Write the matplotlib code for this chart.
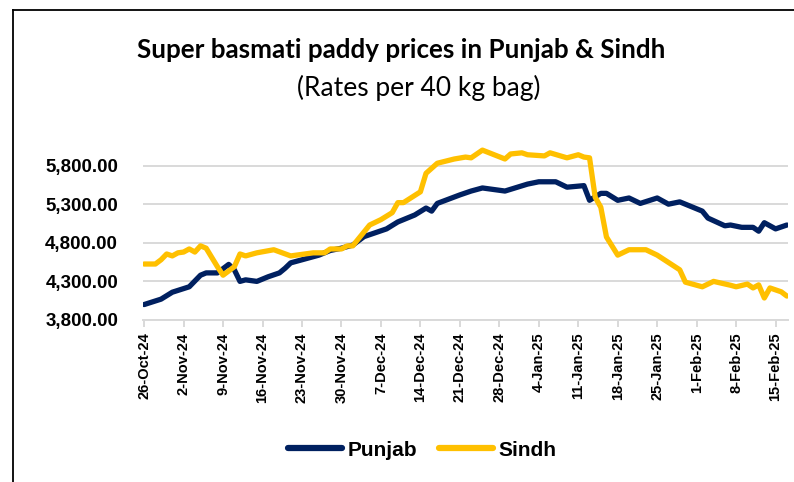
import numpy as np
import matplotlib
matplotlib.use('Agg')
import matplotlib.pyplot as plt
import matplotlib.dates as mdates
from matplotlib.lines import Line2D
from matplotlib.ticker import FuncFormatter

start = np.datetime64('2024-10-26')

# days after 26-Oct-24
punjab_day = [0, 3, 5, 8, 10, 11, 13, 15, 16, 17, 18, 20, 22, 24, 25, 26, 28, 31, 33, 35,
              37, 39, 41, 43, 45, 48, 50, 51, 52, 56, 58, 60, 64, 68, 70, 73, 75, 78, 79, 81,
              82, 84, 86, 88, 91, 93, 95, 99, 100, 103, 104, 106, 108, 109, 110, 112, 114]
punjab_price = [4000, 4070, 4160, 4230, 4380, 4410, 4410, 4520, 4450, 4300, 4320, 4300, 4360, 4410,
                4470, 4540, 4580, 4640, 4700, 4730, 4770, 4880, 4930, 4980, 5070, 5160, 5250, 5210,
                5310, 5420, 5470, 5510, 5470, 5560, 5590, 5590, 5520, 5540, 5350, 5440, 5440, 5350,
                5380, 5310, 5380, 5300, 5330, 5210, 5120, 5020, 5030, 5000, 5000, 4950, 5060, 4980,
                5030]

sindh_day = [0, 2, 3, 4, 5, 6, 7, 8, 9, 10, 11, 13, 14, 16, 17, 18, 20, 23, 26, 30,
             32, 33, 35, 36, 37, 40, 42, 44, 45, 46, 49, 50, 52, 55, 57, 58, 60, 64, 65, 67,
             68, 71, 72, 75, 77, 78, 79, 80, 81, 82, 84, 86, 89, 91, 95, 96, 99, 101, 104, 105,
             107, 108, 109, 110, 111, 113, 114]
sindh_price = [4525, 4525, 4580, 4655, 4630, 4670, 4680, 4720, 4680, 4760, 4730, 4490, 4380, 4490,
               4655, 4630, 4670, 4710, 4630, 4670, 4670, 4720, 4720, 4760, 4760, 5030, 5100, 5190,
               5320, 5320, 5460, 5700, 5830, 5885, 5910, 5900, 6000, 5885, 5950, 5965, 5940, 5925,
               5965, 5900, 5940, 5910, 5900, 5390, 5260, 4875, 4640, 4710, 4710, 4640, 4450, 4290,
               4230, 4300, 4250, 4230, 4265, 4215, 4255, 4085, 4215, 4165, 4110]

y_ticks = [3800, 4300, 4800, 5300, 5800]

navy = '#002060'
gold = '#FFC000'

fig = plt.figure(figsize=(7.94, 4.82), dpi=100)
ax = fig.add_axes([143 / 794, 1 - 320 / 482, 645 / 794, 177.6 / 482])

pj_x = start + np.array(punjab_day).astype('timedelta64[D]')
sd_x = start + np.array(sindh_day).astype('timedelta64[D]')
ax.plot(pj_x, punjab_price, color=navy, lw=3.8, label='Punjab', solid_joinstyle='round',
        solid_capstyle='round', zorder=3)
ax.plot(sd_x, sindh_price, color=gold, lw=3.8, label='Sindh', solid_joinstyle='round',
        solid_capstyle='round', zorder=3)

x0 = mdates.date2num(start)
ax.set_xlim(x0 - 0.2, x0 + 114.2)
ax.set_ylim(3800, 6100)

week_ticks = [x0 + 7 * k for k in range(17)]
ax.set_xticks(week_ticks)
ax.xaxis.set_major_formatter(FuncFormatter(
    lambda v, p: '{}-{}'.format(mdates.num2date(v).day, mdates.num2date(v).strftime('%b-%y'))))
ax.set_yticks(y_ticks)
ax.yaxis.set_major_formatter(FuncFormatter(lambda v, p: '{:,.2f}'.format(v)))

ax.grid(axis='y', color='#d9d9d9', lw=1.4, zorder=0)
for s in ['top', 'right', 'left']:
    ax.spines[s].set_visible(False)
ax.spines['bottom'].set_color('#d9d9d9')
ax.spines['bottom'].set_linewidth(1.4)

ax.tick_params(axis='y', length=0, pad=18)
ax.tick_params(axis='x', length=5, width=1.4, color='#d9d9d9', pad=4)
for lab in ax.get_yticklabels():
    lab.set_fontfamily('Liberation Sans')
    lab.set_fontweight('bold')
    lab.set_fontsize(13.5)
for lab in ax.get_xticklabels():
    lab.set_fontfamily('Liberation Sans')
    lab.set_fontweight('bold')
    lab.set_fontsize(10.5)
    lab.set_rotation(90)

fig.text(401 / 794, 1 - 50 / 482, 'Super basmati paddy prices in Punjab & Sindh',
         ha='center', va='center', fontsize=18.7, fontweight='bold', family='Lato')
fig.text(419 / 794, 1 - 88 / 482, '(Rates per 40 kg bag)',
         ha='center', va='center', fontsize=19, family='Lato')

leg = fig.legend(loc='center', bbox_to_anchor=(422 / 794, 1 - 450 / 482), ncol=2, frameon=False,
                 prop={'family': 'Liberation Sans', 'weight': 'bold', 'size': 15},
                 handlelength=2.6, handletextpad=0.25, columnspacing=1.05)
for h in leg.get_lines():
    h.set_linewidth(4.5)

# outer chart frame (only top and left edges show in the picture)
fig.add_artist(Line2D([13 / 794, 1.0], [1 - 10 / 482, 1 - 10 / 482], color='black', lw=1.3))
fig.add_artist(Line2D([13 / 794, 13 / 794], [0.0, 1 - 10 / 482], color='black', lw=1.3))

fig.savefig('out.png', dpi=100)
